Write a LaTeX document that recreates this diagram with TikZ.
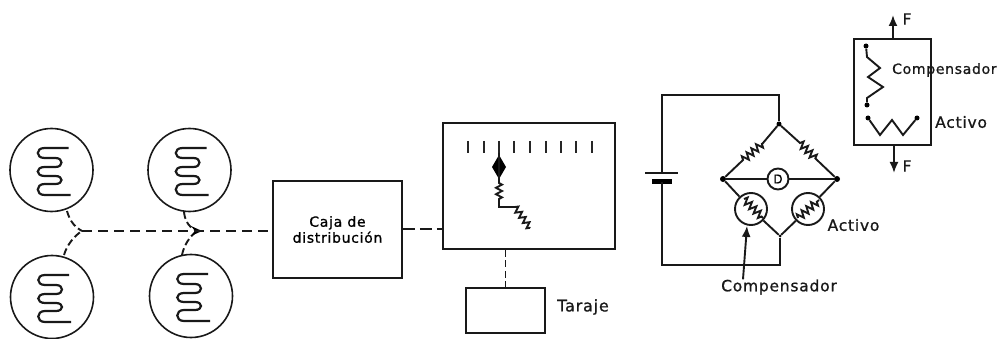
\documentclass[tikz,border=0pt]{standalone}
\usepackage{fontspec}
\setmainfont{DejaVu Sans}
\newfontfamily\widef[LetterSpace=5,FakeBold=1]{DejaVu Sans}
\usetikzlibrary{decorations.pathmorphing,arrows.meta}
\tikzset{
  wire/.style={line width=1.9pt,draw=black!90},
  longdash/.style={wire,dash pattern=on 10pt off 6pt},
  shortdash/.style={wire,dash pattern=on 7pt off 3.5pt},
  gauge/.style={wire,line width=1.6pt,circle,minimum size=83pt,inner sep=0pt},
  box/.style={wire,rectangle,inner sep=0pt},
  rcirc/.style={wire,circle,minimum size=32pt,inner sep=0pt},
  zz/.style={decorate,decoration={zigzag,amplitude=3.6pt,segment length=6.2pt}},
  zzs/.style={decorate,decoration={zigzag,amplitude=3pt,segment length=6.4pt}},
  dotn/.style={circle,fill=black,minimum size=5pt,inner sep=0pt},
  lab/.style={text=black!90,inner sep=0pt,font=\widef\fontsize{15.5}{18}\selectfont},
  head/.style={-{Latex[length=11pt,width=9pt]}},
  serp/.pic={\draw[wire,line width=2.2pt] (17,-22) -- (-7,-22) .. controls (-16,-22) and (-16,-12) .. (-7,-12) -- (4,-12)
     .. controls (12,-12) and (12,-3) .. (4,-3) -- (-7,-3) .. controls (-16,-3) and (-16,6) .. (-7,6) -- (4,6)
     .. controls (12,6) and (12,14) .. (4,14) -- (-7,14) .. controls (-16,14) and (-16,25) .. (-7,25) -- (19,25);}
}
\begin{document}
\begin{tikzpicture}[x=1pt,y=-1pt]
\useasboundingbox (0,0) rectangle (1001,339);
% gauges
\node[gauge] (g1) at (51.5,170) {};
\node[gauge] (g2) at (52,297) {};
\node[gauge] (g3) at (189.5,170) {};
\node[gauge] (g4) at (191,296) {};
\pic at (g1) {serp};
\pic at (g2) {serp};
\pic at (g3) {serp};
\pic at (g4) {serp};
\coordinate (j1) at (82,231);
\coordinate (j2) at (197,231);
\node[box,minimum width=129pt,minimum height=97pt,align=center,font=\widef\fontsize{14}{16}\selectfont] (caja) at (337.5,229.5) {Caja de\\distribución};
\draw[shortdash] (67,211) .. controls (70,222) and (76,228) .. (j1);
\draw[shortdash] (64,255) .. controls (67,245) and (74,236) .. (j1);
\draw[shortdash] (184,212) .. controls (185,222) and (190,228) .. (j2);
\draw[shortdash] (182,255) .. controls (184,245) and (190,236) .. (j2);
\fill[black] (191,226) -- (202,231) -- (191,236) -- (195,231) -- cycle;
\draw[longdash] (j1) -- (caja.west |- j1);
% meter
\node[box,minimum width=172pt,minimum height=126pt] (meter) at (529,186) {};
\coordinate (cajaout) at (caja.east |- 0,229);
\coordinate (meterin) at (meter.west |- 0,229);
\draw[longdash,dash pattern=on 12pt off 5pt] (cajaout) -- (meterin);
\foreach \x in {468,484,499,514,530,546,561,576,592} \draw[line width=1.5pt,black!85] (\x,141) -- (\x,153);
\coordinate (tick) at (499,153);
\coordinate (needle) at (499,167);
\fill[black] (499,155) -- (506,167) -- (499,179) -- (492,167) -- cycle;
\draw[wire] (tick) -- (needle) -- (499,183) decorate[zzs] {-- (499,202)} -- (499,207) -- (515,207)
   decorate[zzs] {-- (530,228)};
\node[box,minimum width=79pt,minimum height=45pt] (taraje) at (505.5,310.5) {};
\draw[shortdash] (meter.south -| taraje) -- (taraje.north);
\node[lab,font=\widef\fontsize{16}{18}\selectfont] (tarajel) at (583,307) {Taraje};
% bridge
\coordinate (bt) at (779,124);
\coordinate (bl) at (723,179);
\coordinate (br) at (837,179);
\coordinate (bb) at (780,236);
\node[dotn] (nt) at (bt) {};
\node[dotn,minimum size=6pt] (nl) at (bl) {};
\node[dotn,minimum size=6pt] (nr) at (br) {};
\node[dotn,minimum size=3pt] (nb) at (bb) {};
\node[wire,circle,minimum size=21pt,inner sep=0pt,font=\widef\fontsize{12}{14}\selectfont] (det) at (778,179) {D};
\draw[wire] (nl) -- (det) -- (nr);
\draw[wire] (nl) -- (743,160) decorate[zz] {-- (763,143)} -- (nt);
\draw[wire] (nt) -- (800,143) decorate[zz] {-- (817,160)} -- (nr);
\node[rcirc] (rc) at (751,209) {};
\node[rcirc] (ra) at (808,209) {};
\draw[wire] (nl) -- (rc);
\draw[wire] (rc) -- (nb) -- (ra);
\draw[wire] (ra) -- (nr);
\draw[wire,zz] (744,199) -- (763,218);
\draw[wire,zz] (798,218) -- (819,200);
\coordinate (wa) at (779,95);
\coordinate (wb) at (662,95);
\coordinate (wc) at (662,173);
\coordinate (wd) at (662,265);
\coordinate (we) at (780,265);
\coordinate (wf) at (662,182);
\draw[wire] (nt) -- (wa) -- (wb) -- (wc);
\draw[wire] (645,173) -- (678,173);
\draw[line width=5pt,black] (652,182) -- (672,182);
\draw[wire] (wf) -- (wd) -- (we) -- (nb);
\node[lab] (lcomp) at (779,287) {Compensador};
\node[lab] (lact) at (853.5,225) {Activo};
\draw[wire,head] (lcomp.north -| 743,0) -- (rc.south -| 747,0);
% strain element
\node[box,minimum width=77pt,minimum height=106pt] (elem) at (892.5,92) {};
\coordinate (up) at (893,15);
\coordinate (dn) at (894,173);
\draw[wire,head] (elem.north -| up) -- (up);
\draw[wire,head] (elem.south -| dn) -- (dn);
\node[lab] (f1) at (907,19) {F};
\node[lab] (f2) at (907,166) {F};
\node[dotn] (c1) at (866,46) {};
\node[dotn] (c2) at (867,105) {};
\node[dotn] (a1) at (868,118) {};
\node[dotn] (a2) at (917,118) {};
\draw[wire] (c1) -- (867,57) -- (880,68) -- (868,77) -- (883,87) -- (867,98) -- (c2);
\draw[wire] (a1) -- (880,135) -- (892,120) -- (903,135) -- (a2);
\node[lab,anchor=west,font=\widef\fontsize{14}{16}\selectfont] (lcomp2) at (892,70) {Compensador};
\node[lab,anchor=west] (lact2) at (935,122) {Activo};
\end{tikzpicture}
\end{document}
